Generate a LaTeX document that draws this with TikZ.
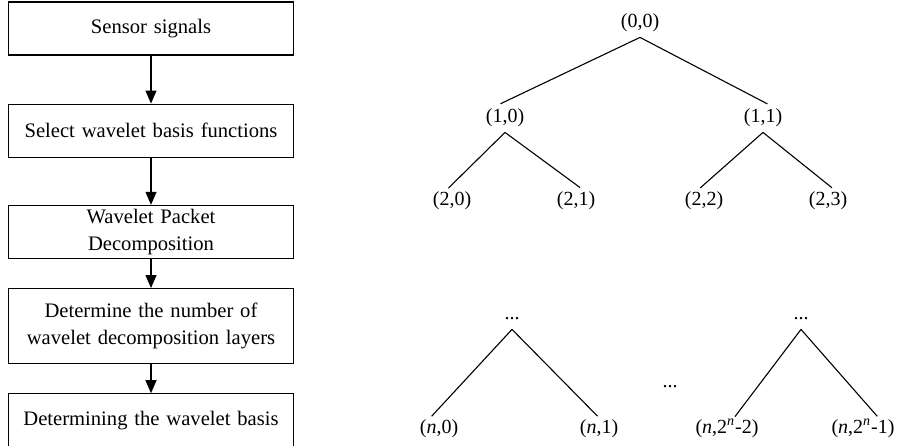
\documentclass[tikz,border=0pt]{standalone}
\usepackage{fontspec}
\setmainfont{Liberation Serif}
\usetikzlibrary{positioning,arrows.meta}

\tikzset{
    stepbox/.style={draw, line width=0.6pt, text width=135pt, inner xsep=3.75pt,
        inner ysep=1pt, minimum height=26.5pt, align=center,
        font=\fontsize{10.3pt}{13.5pt}\selectfont},
    flow/.style={line width=0.6pt, -{Triangle[length=6.5pt,width=5.5pt]}},
    lbl/.style={inner ysep=3pt, text height=7pt, text depth=2pt,
        font=\fontsize{10pt}{12pt}\selectfont},
    branch/.style={line width=0.55pt, shorten >=-2.5pt}
}

\begin{document}
\begin{tikzpicture}[x=0.5pt, y=-0.5pt]
        \useasboundingbox (0,0) rectangle (898,445);

        % flow chart
        \node (s1) [stepbox] at (151,28.5) {Sensor signals};
        \node (s2) [stepbox, below=24pt of s1] {Select wavelet basis functions};
        \node (s3) [stepbox, below=23.5pt of s2] {Wavelet Packet\\Decomposition};
        \node (s4) [stepbox, minimum height=37.5pt, below=14.5pt of s3] {Determine the number of\\wavelet decomposition layers};
        \node (s5) [stepbox, below=14.5pt of s4] {Determining the wavelet basis};

        \path [flow] (s1) edge (s2)
                     (s2) edge (s3)
                     (s3) edge (s4)
                     (s4) edge (s5);

        % wavelet packet tree
        \node (n00) [lbl] at (640,22) {(0,0)};
        \node (n10) [lbl] at (505,117) {(1,0)};
        \node (n11) [lbl] at (763,117) {(1,1)};
        \node (n20) [lbl] at (452,200) {(2,0)};
        \node (n21) [lbl] at (576,200) {(2,1)};
        \node (n22) [lbl] at (704,200) {(2,2)};
        \node (n23) [lbl] at (828,200) {(2,3)};
        \node (d1) [lbl] at (512,314) {...};
        \node (d2) [lbl] at (801,314) {...};
        \node (dm) [lbl] at (670,382) {...};
        \node (nn0) [lbl] at (439,428) {(\textit{n},0)};
        \node (nn1) [lbl] at (599,428) {(\textit{n},1)};
        \node (nn2) [lbl] at (727,428) {(\textit{n},2\textsuperscript{\textit{n}}-2)};
        \node (nn3) [lbl] at (863,428) {(\textit{n},2\textsuperscript{\textit{n}}-1)};

        \path [branch] (n00.south) edge (n10.north)
                       (n00.south) edge (n11.north)
                       (n10.south) edge (n20.north)
                       (n10.south) edge (n21.north)
                       (n11.south) edge (n22.north)
                       (n11.south) edge (n23.north)
                       (d1.south) edge ([xshift=-2pt]nn0.north)
                       (d1.south) edge ([xshift=-2.5pt]nn1.north)
                       (d2.south) edge ([xshift=5.5pt]nn2.north)
                       (d2.south) edge ([xshift=5.5pt]nn3.north);
    \end{tikzpicture}
\end{document}
